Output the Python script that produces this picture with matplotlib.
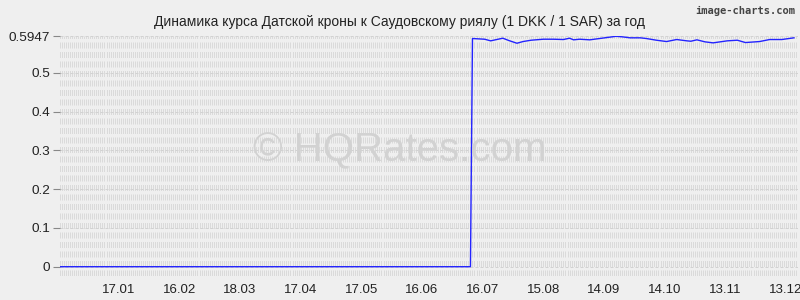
import matplotlib
matplotlib.use("Agg")
import matplotlib.pyplot as plt
import pandas as pd

plt.rcParams['font.family'] = ['Liberation Sans', 'DejaVu Sans']

title = "Динамика курса Датской кроны к Саудовскому риялу (1 DKK / 1 SAR) за год"

zero_dates = ["2022-12-19", "2023-07-10"]
zero_values = [0.0, 0.0]

rate_dates = ["2023-07-11", "2023-07-17", "2023-07-20", "2023-07-26", "2023-07-29",
              "2023-08-02", "2023-08-05", "2023-08-09", "2023-08-15", "2023-08-20",
              "2023-08-25", "2023-08-28", "2023-08-30", "2023-09-02", "2023-09-07",
              "2023-09-13", "2023-09-20", "2023-09-23", "2023-09-27", "2023-10-02",
              "2023-10-05", "2023-10-10", "2023-10-15", "2023-10-20", "2023-10-25",
              "2023-10-27", "2023-10-30", "2023-11-03", "2023-11-07", "2023-11-14",
              "2023-11-19", "2023-11-23", "2023-11-30", "2023-12-05", "2023-12-11",
              "2023-12-17"]
rate_values = [0.5890, 0.5872, 0.5830, 0.5898, 0.5838,
               0.5768, 0.5812, 0.5846, 0.5872, 0.5872,
               0.5864, 0.5898, 0.5856, 0.5872, 0.5856,
               0.5898, 0.5947, 0.5934, 0.5908, 0.5908,
               0.5890, 0.5846, 0.5812, 0.5864, 0.5830,
               0.5820, 0.5856, 0.5804, 0.5778, 0.5830,
               0.5846, 0.5786, 0.5812, 0.5864, 0.5864,
               0.5908]

y_ticks = [0, 0.1, 0.2, 0.3, 0.4, 0.5, 0.5947]
y_tick_labels = ["0", "0.1", "0.2", "0.3", "0.4", "0.5", "0.5947"]
x_tick_dates = ["2023-01-17", "2023-02-16", "2023-03-18", "2023-04-17", "2023-05-17",
                "2023-06-16", "2023-07-16", "2023-08-15", "2023-09-14", "2023-10-14",
                "2023-11-13", "2023-12-13"]
x_tick_labels = ["17.01", "16.02", "18.03", "17.04", "17.05", "16.06", "16.07",
                 "15.08", "14.09", "14.10", "13.11", "13.12"]

bg = "#efefef"
fig = plt.figure(figsize=(8, 3), dpi=100, facecolor=bg)
ax = fig.add_axes([0.075, 0.08, 0.9225, 0.80], facecolor=bg)

x0 = pd.Timestamp("2022-12-19")
x1 = pd.Timestamp("2023-12-19")
ax.set_xlim(x0, x1)
ax.set_ylim(-0.024, 0.5955)

# dense daily vertical dashed grid
days = pd.date_range(x0, x1, freq="D")
for d in days:
    ax.axvline(d, color="#dadada", lw=0.72, dashes=(6, 3.5), zorder=0)
# horizontal grid at ticks
for yt in y_ticks:
    ax.axhline(yt, color="#d2d2d2", lw=0.72, dashes=(3, 2), zorder=0.5)
ax.axhline(-0.024, color="#d4d4d4", lw=0.72, dashes=(1, 1), zorder=0.5)

zd = pd.to_datetime(zero_dates)
rd = pd.to_datetime(rate_dates)
xs = list(zd) + list(rd)
ys = list(zero_values) + list(rate_values)
ax.plot(xs, ys, color="#2323ff", lw=1.0, zorder=3)

ax.set_yticks(y_ticks)
ax.set_yticklabels(y_tick_labels, fontsize=9.7, color="#222222")
ax.set_xticks(pd.to_datetime(x_tick_dates))
ax.set_xticklabels(x_tick_labels, fontsize=9.5, color="#222222")
ax.tick_params(axis="y", length=5, width=0.8, color="#888888", pad=2)
ax.tick_params(axis="x", length=0, pad=6)
for s in ax.spines.values():
    s.set_visible(False)

# watermark
fig.text(0.5, 0.5, "© HQRates.com", ha="center", va="center",
         fontsize=29, color="#d2d2d2", zorder=1)

fig.text(0.5, 0.928, title, ha="center", va="center", fontsize=10, color="#222222")
fig.text(0.994, 0.962, "image-charts.com", ha="right", va="center", fontsize=7.5,
         fontweight="bold", color="#444444", family=["DejaVu Sans Mono", "DejaVu Sans"])

fig.savefig("out.png", dpi=100, facecolor=bg)
